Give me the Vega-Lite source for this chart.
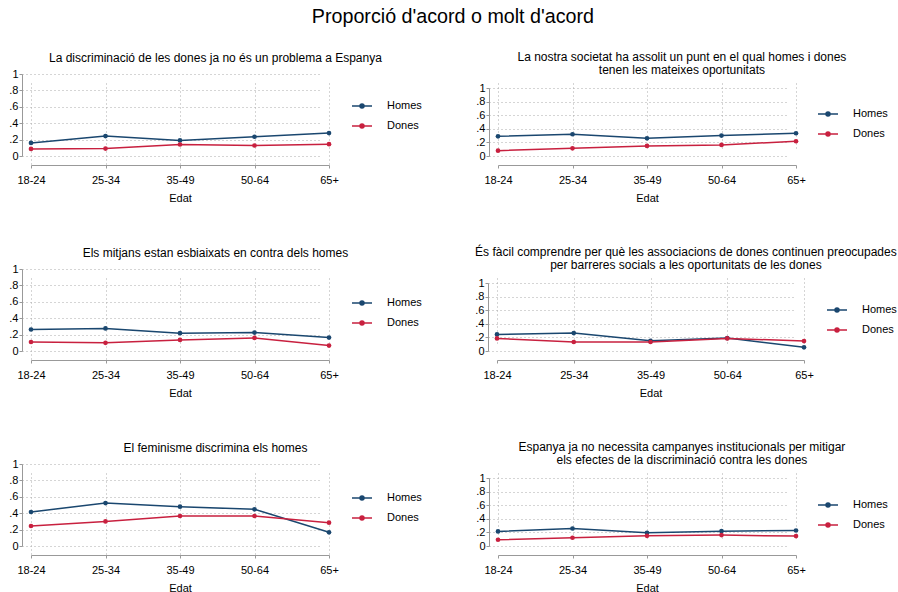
{
  "$schema": "https://vega.github.io/schema/vega-lite/v6.json",
  "padding": {"left": 8, "top": 7, "right": 5, "bottom": 0},
  "title": {"text": "Proporció d'acord o molt d'acord", "fontSize": 19.7, "fontWeight": "normal", "anchor": "middle", "offset": 24, "color": "#000"},
  "datasets": {
    "d": [
      {"p": 1, "edat": "18-24", "sexe": "Homes", "v": 0.16},
      {"p": 1, "edat": "25-34", "sexe": "Homes", "v": 0.243},
      {"p": 1, "edat": "35-49", "sexe": "Homes", "v": 0.19},
      {"p": 1, "edat": "50-64", "sexe": "Homes", "v": 0.235},
      {"p": 1, "edat": "65+", "sexe": "Homes", "v": 0.28},
      {"p": 1, "edat": "18-24", "sexe": "Dones", "v": 0.086},
      {"p": 1, "edat": "25-34", "sexe": "Dones", "v": 0.09},
      {"p": 1, "edat": "35-49", "sexe": "Dones", "v": 0.14},
      {"p": 1, "edat": "50-64", "sexe": "Dones", "v": 0.128},
      {"p": 1, "edat": "65+", "sexe": "Dones", "v": 0.144},
      {"p": 2, "edat": "18-24", "sexe": "Homes", "v": 0.29},
      {"p": 2, "edat": "25-34", "sexe": "Homes", "v": 0.32},
      {"p": 2, "edat": "35-49", "sexe": "Homes", "v": 0.26},
      {"p": 2, "edat": "50-64", "sexe": "Homes", "v": 0.30},
      {"p": 2, "edat": "65+", "sexe": "Homes", "v": 0.335},
      {"p": 2, "edat": "18-24", "sexe": "Dones", "v": 0.079},
      {"p": 2, "edat": "25-34", "sexe": "Dones", "v": 0.113},
      {"p": 2, "edat": "35-49", "sexe": "Dones", "v": 0.148},
      {"p": 2, "edat": "50-64", "sexe": "Dones", "v": 0.163},
      {"p": 2, "edat": "65+", "sexe": "Dones", "v": 0.217},
      {"p": 3, "edat": "18-24", "sexe": "Homes", "v": 0.262},
      {"p": 3, "edat": "25-34", "sexe": "Homes", "v": 0.275},
      {"p": 3, "edat": "35-49", "sexe": "Homes", "v": 0.217},
      {"p": 3, "edat": "50-64", "sexe": "Homes", "v": 0.225},
      {"p": 3, "edat": "65+", "sexe": "Homes", "v": 0.164},
      {"p": 3, "edat": "18-24", "sexe": "Dones", "v": 0.11},
      {"p": 3, "edat": "25-34", "sexe": "Dones", "v": 0.10},
      {"p": 3, "edat": "35-49", "sexe": "Dones", "v": 0.135},
      {"p": 3, "edat": "50-64", "sexe": "Dones", "v": 0.16},
      {"p": 3, "edat": "65+", "sexe": "Dones", "v": 0.066},
      {"p": 4, "edat": "18-24", "sexe": "Homes", "v": 0.244},
      {"p": 4, "edat": "25-34", "sexe": "Homes", "v": 0.263},
      {"p": 4, "edat": "35-49", "sexe": "Homes", "v": 0.151},
      {"p": 4, "edat": "50-64", "sexe": "Homes", "v": 0.19},
      {"p": 4, "edat": "65+", "sexe": "Homes", "v": 0.054},
      {"p": 4, "edat": "18-24", "sexe": "Dones", "v": 0.185},
      {"p": 4, "edat": "25-34", "sexe": "Dones", "v": 0.132},
      {"p": 4, "edat": "35-49", "sexe": "Dones", "v": 0.132},
      {"p": 4, "edat": "50-64", "sexe": "Dones", "v": 0.185},
      {"p": 4, "edat": "65+", "sexe": "Dones", "v": 0.146},
      {"p": 5, "edat": "18-24", "sexe": "Homes", "v": 0.415},
      {"p": 5, "edat": "25-34", "sexe": "Homes", "v": 0.524},
      {"p": 5, "edat": "35-49", "sexe": "Homes", "v": 0.48},
      {"p": 5, "edat": "50-64", "sexe": "Homes", "v": 0.447},
      {"p": 5, "edat": "65+", "sexe": "Homes", "v": 0.167},
      {"p": 5, "edat": "18-24", "sexe": "Dones", "v": 0.244},
      {"p": 5, "edat": "25-34", "sexe": "Dones", "v": 0.30},
      {"p": 5, "edat": "35-49", "sexe": "Dones", "v": 0.366},
      {"p": 5, "edat": "50-64", "sexe": "Dones", "v": 0.366},
      {"p": 5, "edat": "65+", "sexe": "Dones", "v": 0.285},
      {"p": 6, "edat": "18-24", "sexe": "Homes", "v": 0.214},
      {"p": 6, "edat": "25-34", "sexe": "Homes", "v": 0.257},
      {"p": 6, "edat": "35-49", "sexe": "Homes", "v": 0.194},
      {"p": 6, "edat": "50-64", "sexe": "Homes", "v": 0.218},
      {"p": 6, "edat": "65+", "sexe": "Homes", "v": 0.228},
      {"p": 6, "edat": "18-24", "sexe": "Dones", "v": 0.092},
      {"p": 6, "edat": "25-34", "sexe": "Dones", "v": 0.121},
      {"p": 6, "edat": "35-49", "sexe": "Dones", "v": 0.15},
      {"p": 6, "edat": "50-64", "sexe": "Dones", "v": 0.16},
      {"p": 6, "edat": "65+", "sexe": "Dones", "v": 0.146}
    ]
  },
  "data": {"name": "d"},
  "spacing": 43,
  "resolve": {"scale": {"color": "independent", "x": "independent", "y": "independent"}, "legend": {"color": "independent"}},
  "vconcat": [
    {
      "spacing": 53,
      "resolve": {"scale": {"color": "independent", "x": "independent", "y": "independent"}, "legend": {"color": "independent"}},
      "hconcat": [
        {
          "title": {"text": "La discriminació de les dones ja no és un problema a Espanya", "offset": 3},
          "width": 298, "height": 82,
          "transform": [{"filter": "datum.p == 1"}],
          "encoding": {
            "x": {"field": "edat", "type": "ordinal", "sort": ["18-24", "25-34", "35-49", "50-64", "65+"], "scale": {"type": "point", "padding": 0}, "axis": {"title": "Edat"}},
            "y": {"field": "v", "type": "quantitative", "scale": {"domain": [0, 1]}, "axis": {"title": null, "values": [0, 0.2, 0.4, 0.6, 0.8, 1], "labelExpr": "datum.value == 0 ? '0' : datum.value == 1 ? '1' : replace(format(datum.value, '.1f'), '0.', '.')"}},
            "color": {"field": "sexe", "type": "nominal", "scale": {"domain": ["Homes", "Dones"], "range": ["#1a476f", "#c8203f"]}, "legend": {"title": null, "orient": "none", "legendX": 320, "legendY": 21}}
          },
          "layer": [
            {"mark": {"type": "line", "strokeWidth": 1.5}},
            {"mark": {"type": "point", "filled": true, "size": 22, "opacity": 1}}
          ]
        },
        {
          "title": {"text": ["La nostra societat ha assolit un punt en el qual homes i dones", "tenen les mateixes oportunitats"], "offset": -3},
          "width": 298, "height": 82,
          "transform": [{"filter": "datum.p == 2"}],
          "encoding": {
            "x": {"field": "edat", "type": "ordinal", "sort": ["18-24", "25-34", "35-49", "50-64", "65+"], "scale": {"type": "point", "padding": 0}, "axis": {"title": "Edat"}},
            "y": {"field": "v", "type": "quantitative", "scale": {"domain": [0, 1], "range": [82, 14]}, "axis": {"title": null, "values": [0, 0.2, 0.4, 0.6, 0.8, 1], "labelExpr": "datum.value == 0 ? '0' : datum.value == 1 ? '1' : replace(format(datum.value, '.1f'), '0.', '.')"}},
            "color": {"field": "sexe", "type": "nominal", "scale": {"domain": ["Homes", "Dones"], "range": ["#1a476f", "#c8203f"]}, "legend": {"title": null, "orient": "none", "legendX": 319, "legendY": 29}}
          },
          "layer": [
            {"mark": {"type": "line", "strokeWidth": 1.5}},
            {"mark": {"type": "point", "filled": true, "size": 22, "opacity": 1}}
          ]
        }
      ]
    },
    {
      "spacing": 52,
      "resolve": {"scale": {"color": "independent", "x": "independent", "y": "independent"}, "legend": {"color": "independent"}},
      "hconcat": [
        {
          "title": {"text": "Els mitjans estan esbiaixats en contra dels homes", "offset": 3},
          "width": 298, "height": 82,
          "transform": [{"filter": "datum.p == 3"}],
          "encoding": {
            "x": {"field": "edat", "type": "ordinal", "sort": ["18-24", "25-34", "35-49", "50-64", "65+"], "scale": {"type": "point", "padding": 0}, "axis": {"title": "Edat"}},
            "y": {"field": "v", "type": "quantitative", "scale": {"domain": [0, 1]}, "axis": {"title": null, "values": [0, 0.2, 0.4, 0.6, 0.8, 1], "labelExpr": "datum.value == 0 ? '0' : datum.value == 1 ? '1' : replace(format(datum.value, '.1f'), '0.', '.')"}},
            "color": {"field": "sexe", "type": "nominal", "scale": {"domain": ["Homes", "Dones"], "range": ["#1a476f", "#c8203f"]}, "legend": {"title": null, "orient": "none", "legendX": 320, "legendY": 23}}
          },
          "layer": [
            {"mark": {"type": "line", "strokeWidth": 1.5}},
            {"mark": {"type": "point", "filled": true, "size": 22, "opacity": 1}}
          ]
        },
        {
          "title": {"text": ["És fàcil comprendre per què les associacions de dones continuen preocupades", "per barreres socials a les oportunitats de les dones"], "offset": -3},
          "width": 307, "height": 82,
          "transform": [{"filter": "datum.p == 4"}],
          "encoding": {
            "x": {"field": "edat", "type": "ordinal", "sort": ["18-24", "25-34", "35-49", "50-64", "65+"], "scale": {"type": "point", "padding": 0}, "axis": {"title": "Edat"}},
            "y": {"field": "v", "type": "quantitative", "scale": {"domain": [0, 1], "range": [82, 14]}, "axis": {"title": null, "values": [0, 0.2, 0.4, 0.6, 0.8, 1], "labelExpr": "datum.value == 0 ? '0' : datum.value == 1 ? '1' : replace(format(datum.value, '.1f'), '0.', '.')"}},
            "color": {"field": "sexe", "type": "nominal", "scale": {"domain": ["Homes", "Dones"], "range": ["#1a476f", "#c8203f"]}, "legend": {"title": null, "orient": "none", "legendX": 329, "legendY": 30}}
          },
          "layer": [
            {"mark": {"type": "line", "strokeWidth": 1.5}},
            {"mark": {"type": "point", "filled": true, "size": 22, "opacity": 1}}
          ]
        }
      ]
    },
    {
      "spacing": 53,
      "resolve": {"scale": {"color": "independent", "x": "independent", "y": "independent"}, "legend": {"color": "independent"}},
      "hconcat": [
        {
          "title": {"text": "El feminisme discrimina els homes", "offset": 3},
          "width": 298, "height": 82,
          "transform": [{"filter": "datum.p == 5"}],
          "encoding": {
            "x": {"field": "edat", "type": "ordinal", "sort": ["18-24", "25-34", "35-49", "50-64", "65+"], "scale": {"type": "point", "padding": 0}, "axis": {"title": "Edat"}},
            "y": {"field": "v", "type": "quantitative", "scale": {"domain": [0, 1]}, "axis": {"title": null, "values": [0, 0.2, 0.4, 0.6, 0.8, 1], "labelExpr": "datum.value == 0 ? '0' : datum.value == 1 ? '1' : replace(format(datum.value, '.1f'), '0.', '.')"}},
            "color": {"field": "sexe", "type": "nominal", "scale": {"domain": ["Homes", "Dones"], "range": ["#1a476f", "#c8203f"]}, "legend": {"title": null, "orient": "none", "legendX": 320, "legendY": 23}}
          },
          "layer": [
            {"mark": {"type": "line", "strokeWidth": 1.5}},
            {"mark": {"type": "point", "filled": true, "size": 22, "opacity": 1}}
          ]
        },
        {
          "title": {"text": ["Espanya ja no necessita campanyes institucionals per mitigar", "els efectes de la discriminació contra les dones"], "offset": -3},
          "width": 298, "height": 82,
          "transform": [{"filter": "datum.p == 6"}],
          "encoding": {
            "x": {"field": "edat", "type": "ordinal", "sort": ["18-24", "25-34", "35-49", "50-64", "65+"], "scale": {"type": "point", "padding": 0}, "axis": {"title": "Edat"}},
            "y": {"field": "v", "type": "quantitative", "scale": {"domain": [0, 1], "range": [82, 14]}, "axis": {"title": null, "values": [0, 0.2, 0.4, 0.6, 0.8, 1], "labelExpr": "datum.value == 0 ? '0' : datum.value == 1 ? '1' : replace(format(datum.value, '.1f'), '0.', '.')"}},
            "color": {"field": "sexe", "type": "nominal", "scale": {"domain": ["Homes", "Dones"], "range": ["#1a476f", "#c8203f"]}, "legend": {"title": null, "orient": "none", "legendX": 319, "legendY": 30}}
          },
          "layer": [
            {"mark": {"type": "line", "strokeWidth": 1.5}},
            {"mark": {"type": "point", "filled": true, "size": 22, "opacity": 1}}
          ]
        }
      ]
    }
  ],
  "config": {
    "font": "Liberation Sans",
    "view": {"stroke": null},
    "title": {"fontSize": 12, "fontWeight": "normal", "color": "#000", "anchor": "middle", "frame": "bounds", "lineHeight": 13},
    "axis": {
      "offset": 9,
      "grid": true,
      "gridDash": [1, 3],
      "gridColor": "#aaaaaa",
      "gridWidth": 1,
      "domainColor": "#999999",
      "tickColor": "#999999",
      "tickSize": 3,
      "labelFontSize": 11,
      "labelColor": "#000",
      "titleFontSize": 11,
      "titleFontWeight": "normal",
      "titleColor": "#000"
    },
    "axisX": {"labelAngle": 0, "labelPadding": 6, "titlePadding": 7},
    "axisY": {"labelPadding": 1},
    "legend": {
      "symbolType": "M-1,0H1M0,-0.2A0.2,0.2 0 1,1 0,0.2A0.2,0.2 0 1,1 0,-0.2M0,-0.1A0.1,0.1 0 1,1 0,0.1A0.1,0.1 0 1,1 0,-0.1",
      "symbolSize": 400,
      "symbolStrokeWidth": 1.5,
      "labelFontSize": 11,
      "labelColor": "#000",
      "labelOffset": 14,
      "rowPadding": 4,
      "padding": 0
    }
  }
}
